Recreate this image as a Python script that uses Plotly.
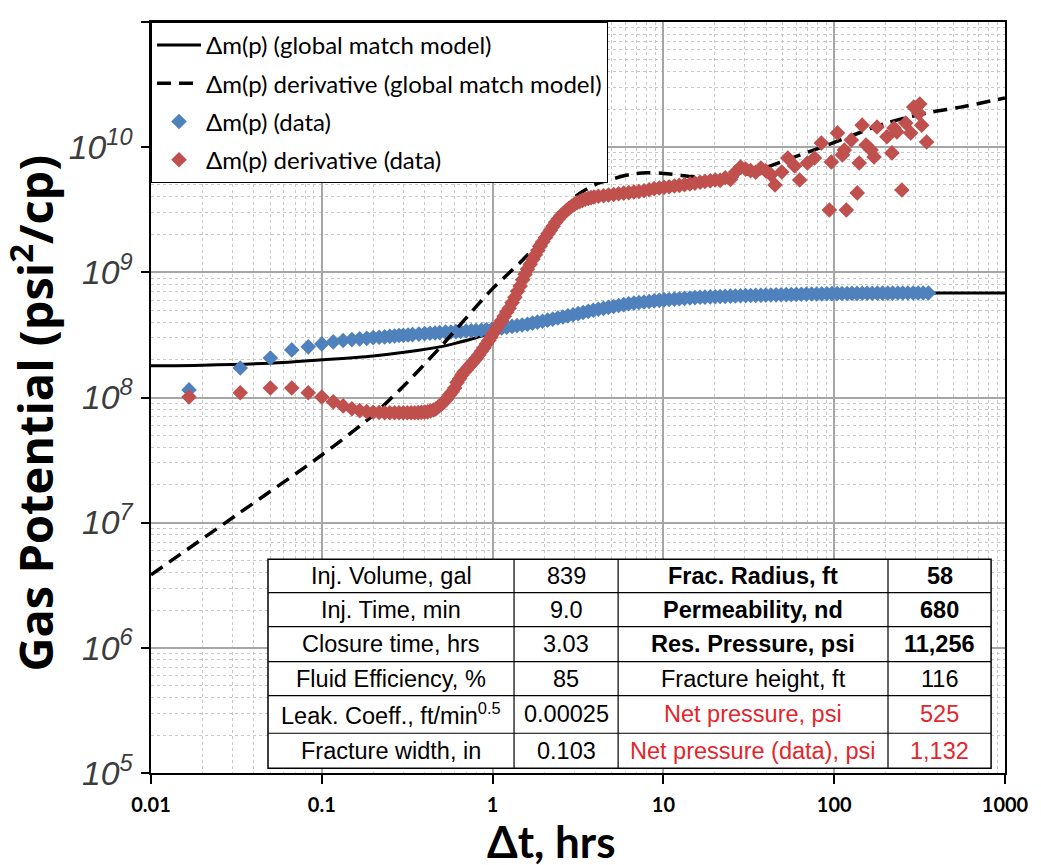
import plotly.graph_objects as go

# ---- model curves (global match) ----
t_model = [0.01, 0.02, 0.05, 0.1, 0.2, 0.32, 0.5, 0.63, 0.8, 1.0, 1.3, 1.6, 2.0, 2.5,
           3.2, 4.0, 6.3, 10, 20, 40, 100, 200, 400, 1000]
mp_model = [1.79e8, 1.81e8, 1.88e8, 2.0e8, 2.15e8, 2.32e8, 2.55e8, 2.75e8, 3.0e8, 3.3e8,
            3.55e8, 3.78e8, 4.03e8, 4.33e8, 4.68e8, 4.98e8, 5.58e8, 6.0e8, 6.38e8, 6.58e8,
            6.76e8, 6.82e8, 6.84e8, 6.84e8]

t_dmodel = [0.01, 0.0316, 0.1, 0.2, 0.316, 0.5, 0.794, 1.0, 1.26, 1.58, 2.0, 2.51, 3.16,
            3.98, 5.01, 6.31, 7.94, 10.0, 15.8, 22.4, 31.6, 58.9, 91.2, 200, 347, 550, 1000]
dmp_model = [3.83e6, 1.15e7, 3.47e7, 7.24e7, 1.32e8, 2.57e8, 5.25e8, 7.41e8, 1.0e9,
             1.35e9, 2.0e9, 3.02e9, 4.17e9, 5.01e9, 5.56e9, 6.03e9, 6.24e9, 6.17e9,
             5.75e9, 5.56e9, 6.17e9, 8.36e9, 1.04e10, 1.55e10, 1.87e10, 2.09e10, 2.47e10]

# ---- measured delta m(p) ----
t_mp = [0.0167, 0.0333, 0.05, 0.0667, 0.0833, 0.1, 0.1167, 0.1333, 0.15, 0.1667, 0.1833,
        0.2, 0.2167, 0.2333, 0.25, 0.2667, 0.2833, 0.3, 0.32, 0.34, 0.37, 0.4, 0.43, 0.46,
        0.49, 0.53, 0.57, 0.61, 0.65, 0.7, 0.75, 0.8, 0.86, 0.92, 0.99, 1.06, 1.13, 1.21,
        1.3, 1.39, 1.49, 1.6, 1.71, 1.83, 1.96, 2.1, 2.25, 2.41, 2.58, 2.76, 2.96, 3.17,
        3.39, 3.63, 3.89, 4.16, 4.46, 4.77, 5.11, 5.47, 5.86, 6.27, 6.72, 7.19, 7.7, 8.25,
        8.83, 9.46, 10.1, 10.8, 11.6, 12.4, 13.3, 14.3, 15.3, 16.4, 17.5, 18.8, 20.1, 21.5,
        23.0, 24.7, 26.4, 28.3, 30.3, 32.4, 34.7, 37.2, 39.8, 42.6, 45.7, 48.9, 52.4, 56.1,
        60.0, 64.3, 68.8, 73.7, 78.9, 84.5, 90.5, 96.9, 104, 111, 119, 127, 136, 146, 156,
        167, 179, 192, 206, 220, 236, 252, 270, 290, 310, 332, 356]
mp_data = [1.15e8, 1.72e8, 2.07e8, 2.40e8, 2.54e8, 2.68e8, 2.78e8, 2.85e8, 2.90e8, 2.94e8,
           2.97e8, 3.01e8, 3.03e8, 3.05e8, 3.08e8, 3.10e8, 3.13e8, 3.14e8, 3.16e8, 3.18e8,
           3.21e8, 3.24e8, 3.26e8, 3.28e8, 3.30e8, 3.33e8, 3.34e8, 3.36e8, 3.37e8, 3.40e8,
           3.41e8, 3.43e8, 3.45e8, 3.48e8, 3.51e8, 3.55e8, 3.59e8, 3.65e8, 3.70e8, 3.75e8,
           3.80e8, 3.85e8, 3.93e8, 4.00e8, 4.07e8, 4.15e8, 4.23e8, 4.32e8, 4.40e8, 4.49e8,
           4.58e8, 4.68e8, 4.78e8, 4.88e8, 4.98e8, 5.07e8, 5.15e8, 5.25e8, 5.33e8, 5.43e8,
           5.52e8, 5.61e8, 5.68e8, 5.74e8, 5.80e8, 5.85e8, 5.92e8, 5.97e8, 6.03e8, 6.07e8,
           6.11e8, 6.15e8, 6.19e8, 6.24e8, 6.28e8, 6.32e8, 6.34e8, 6.37e8, 6.38e8, 6.41e8,
           6.43e8, 6.46e8, 6.47e8, 6.50e8, 6.52e8, 6.53e8, 6.55e8, 6.56e8, 6.58e8, 6.59e8,
           6.61e8, 6.62e8, 6.64e8, 6.65e8, 6.67e8, 6.68e8, 6.70e8, 6.71e8, 6.71e8, 6.73e8,
           6.74e8, 6.76e8, 6.76e8, 6.78e8, 6.78e8, 6.79e8, 6.79e8, 6.81e8, 6.81e8, 6.81e8,
           6.82e8, 6.82e8, 6.82e8, 6.82e8, 6.84e8, 6.84e8, 6.84e8, 6.84e8, 6.84e8, 6.84e8,
           6.84e8]

# ---- measured delta m(p) derivative ----
t_dmp = [0.0167, 0.0333, 0.05, 0.0667, 0.0833, 0.1, 0.1167, 0.1333, 0.15, 0.1667, 0.1833,
         0.2, 0.2167, 0.2333, 0.25, 0.2667, 0.2833, 0.3, 0.3167, 0.3333, 0.35, 0.3667,
         0.3833, 0.4, 0.4167, 0.4333, 0.45, 0.4667, 0.4833, 0.5, 0.52, 0.54, 0.56, 0.58,
         0.6, 0.62, 0.64, 0.66, 0.68, 0.7, 0.72, 0.74, 0.76, 0.78, 0.8, 0.83, 0.86, 0.89,
         0.92, 0.95, 0.98, 1.01, 1.05, 1.09, 1.13, 1.17, 1.21, 1.25, 1.3, 1.35, 1.4, 1.45,
         1.5, 1.55, 1.6, 1.66, 1.72, 1.78, 1.84, 1.9, 1.97, 2.04, 2.11, 2.18, 2.26, 2.34,
         2.42, 2.51, 2.6, 2.7, 2.8, 2.9, 3.01, 3.12, 3.24, 3.36, 3.49, 3.63, 3.77, 3.92,
         4.16, 4.46, 4.77, 5.11, 5.47, 5.86, 6.27, 6.72, 7.19, 7.7, 8.25, 8.83, 9.46, 10.1,
         10.8, 11.6, 12.4, 13.3, 14.3, 15.3, 16.4, 17.5, 18.8, 20.1, 21.5, 23.0, 24.7, 26.4,
         28.3, 30.3, 32.4, 34.7, 37.2, 39.8, 42.6,
         45.0, 49.3, 53.5, 58.7, 62.8, 69.7, 76.7, 84.1, 93.7, 96.2, 104.5, 111.7, 114.6,
         117.8, 125.9, 136.4, 140.1, 145.8, 153.7, 164.4, 171.1, 178.1, 203.6, 217.8, 223.9,
         232.8, 248.9, 262.4, 280.6, 292.3, 312.5, 317.0, 325.2, 347.6]
dmp_data = [1.01e8, 1.09e8, 1.19e8, 1.19e8, 1.09e8, 1.01e8, 9.23e7, 8.57e7, 8.13e7, 7.85e7,
            7.71e7, 7.62e7, 7.59e7, 7.57e7, 7.55e7, 7.55e7, 7.55e7, 7.55e7, 7.55e7, 7.55e7,
            7.55e7, 7.57e7, 7.60e7, 7.64e7, 7.67e7, 7.82e7, 7.94e7, 8.13e7, 8.47e7, 8.81e7,
            9.23e7, 9.77e7, 1.05e8, 1.11e8, 1.19e8, 1.32e8, 1.41e8, 1.51e8, 1.60e8, 1.66e8,
            1.74e8, 1.82e8, 1.89e8, 1.97e8, 2.05e8, 2.19e8, 2.34e8, 2.50e8, 2.68e8, 2.86e8,
            3.04e8, 3.27e8, 3.55e8, 3.83e8, 4.13e8, 4.45e8, 4.82e8, 5.16e8, 5.71e8, 6.31e8,
            7.06e8, 7.76e8, 8.71e8, 9.66e8, 1.06e9, 1.16e9, 1.27e9, 1.38e9, 1.50e9, 1.62e9,
            1.76e9, 1.90e9, 2.03e9, 2.17e9, 2.33e9, 2.51e9, 2.67e9, 2.83e9, 2.96e9, 3.11e9,
            3.25e9, 3.37e9, 3.49e9, 3.60e9, 3.68e9, 3.76e9, 3.84e9, 3.90e9, 3.95e9, 4.00e9,
            4.05e9, 4.09e9, 4.15e9, 4.19e9, 4.24e9, 4.29e9, 4.33e9, 4.38e9, 4.43e9, 4.49e9,
            4.57e9, 4.66e9, 4.72e9, 4.78e9, 4.83e9, 4.89e9, 4.95e9, 5.02e9, 5.09e9, 5.16e9,
            5.25e9, 5.32e9, 5.38e9, 5.47e9, 5.43e9, 5.69e9, 5.52e9, 6.31e9, 6.95e9, 6.68e9,
            6.49e9, 6.31e9, 6.82e9, 6.46e9, 6.03e9,
            4.99e9, 6.34e9, 8.2e9, 7.08e9, 5.47e9, 7.48e9, 8.2e9, 1.08e10, 3.15e9, 7.62e9,
            1.30e10, 8.67e9, 9.5e9, 3.15e9, 1.14e10, 4.31e9, 7.48e9, 1.50e10, 1.04e10, 9.5e9,
            8.36e9, 1.45e10, 1.21e10, 9.0e9, 1.42e10, 1.32e10, 4.55e9, 1.56e10, 1.30e10,
            2.09e10, 1.87e10, 2.21e10, 1.50e10, 1.10e10]

# ---- fracture / reservoir summary table ----
tbl_labels_1 = ["Inj. Volume, gal", "Inj. Time, min", "Closure time, hrs",
                "Fluid Efficiency, %", "Leak. Coeff., ft/min<sup>0.5</sup>",
                "Fracture width, in"]
tbl_values_1 = ["839", "9.0", "3.03", "85", "0.00025", "0.103"]
tbl_labels_2 = ["<b>Frac. Radius, ft</b>", "<b>Permeability, nd</b>",
                "<b>Res. Pressure, psi</b>", "Fracture height, ft", "Net pressure, psi",
                "Net pressure (data), psi"]
tbl_values_2 = ["<b>58</b>", "<b>680</b>", "<b>11,256</b>", "116", "525", "1,132"]
tbl_red_rows = [4, 5]          # rows of the right-hand pair printed in red

# table frame in plot-area fractions
tbl_col_edges = [0.137, 0.4251, 0.547, 0.863, 0.9837]
tbl_row_edges = [0.2846, 0.2401, 0.1948, 0.1482, 0.1029, 0.0529, 0.0063]

BLUE = "#4f81bd"
RED = "#c0504d"
TXT_RED = "#e3262b"

fig = go.Figure()

fig.add_trace(go.Scatter(
    x=t_model, y=mp_model, mode="lines", name="Δm(p) (global match model)",
    line=dict(color="black", width=3, shape="spline", smoothing=0.8),
    legendrank=1, legendgroup="g1"))
fig.add_trace(go.Scatter(
    x=t_mp, y=mp_data, mode="markers", name="Δm(p) (data)",
    marker=dict(symbol="diamond", size=12, color=BLUE),
    legendrank=3, legendgroup="g3"))
fig.add_trace(go.Scatter(
    x=t_dmodel, y=dmp_model, mode="lines", name="Δm(p) derivative (global match model)",
    line=dict(color="black", width=3.5, dash="14px,8px", shape="spline", smoothing=0.8),
    legendrank=2, legendgroup="g2"))
fig.add_trace(go.Scatter(
    x=t_dmp, y=dmp_data, mode="markers", name="Δm(p) derivative (data)",
    marker=dict(symbol="diamond", size=12, color=RED),
    legendrank=4, legendgroup="g4"))

# table: white box, grid lines, then cell texts
shapes = [dict(type="rect", xref="paper", yref="paper", layer="above",
               x0=tbl_col_edges[0], x1=tbl_col_edges[-1],
               y0=tbl_row_edges[-1], y1=tbl_row_edges[0],
               fillcolor="white", line=dict(color="black", width=1.5))]
for xe in tbl_col_edges[1:-1]:
    shapes.append(dict(type="line", xref="paper", yref="paper", layer="above",
                       x0=xe, x1=xe, y0=tbl_row_edges[-1], y1=tbl_row_edges[0],
                       line=dict(color="black", width=1.2)))
for ye in tbl_row_edges[1:-1]:
    shapes.append(dict(type="line", xref="paper", yref="paper", layer="above",
                       x0=tbl_col_edges[0], x1=tbl_col_edges[-1], y0=ye, y1=ye,
                       line=dict(color="black", width=1.2)))

annotations = []
columns = [tbl_labels_1, tbl_values_1, tbl_labels_2, tbl_values_2]
for ci, col in enumerate(columns):
    xc = (tbl_col_edges[ci] + tbl_col_edges[ci + 1]) / 2
    for ri, txt in enumerate(col):
        yc = (tbl_row_edges[ri] + tbl_row_edges[ri + 1]) / 2
        color = TXT_RED if (ci >= 2 and ri in tbl_red_rows) else "black"
        annotations.append(dict(
            text=txt, xref="paper", yref="paper", x=xc, y=yc,
            xanchor="center", yanchor="middle", showarrow=False,
            font=dict(family="Liberation Sans", size=23.5, color=color)))

# axis titles
annotations.append(dict(
    text="Δt, hrs", xref="paper", yref="paper", x=0.469, y=-0.091,
    xanchor="center", yanchor="middle", showarrow=False,
    font=dict(family="Lato", size=44, color="black", weight="bold")))
annotations.append(dict(
    text="Gas Potential (psi<sup>2</sup>/cp)", xref="paper", yref="paper",
    x=-0.139, y=0.479, xanchor="center", yanchor="middle", textangle=-90,
    showarrow=False,
    font=dict(family="Open Sans", size=47, color="black", weight="bold")))

major_grid = "#a6a6a6"
minor_grid = "#c8c8c8"

fig.update_xaxes(
    type="log", range=[-2, 3], dtick=1, exponentformat="none",
    showline=True, linecolor="black", linewidth=2, mirror=True,
    ticks="outside", ticklen=9, tickcolor="black", tickwidth=1.5,
    ticklabelstandoff=4,
    tickfont=dict(family="Lato", size=20, color="black", weight="bold"),
    showgrid=True, gridcolor=major_grid, gridwidth=1.5,
    minor=dict(dtick="D1", showgrid=True, gridcolor=minor_grid, griddash="dot",
               gridwidth=1, ticks=""),
    zeroline=False)

fig.update_yaxes(
    type="log", range=[5, 11], dtick=1, exponentformat="power", showexponent="all",
    showline=True, linecolor="black", linewidth=2, mirror=True,
    ticks="outside", ticklen=8, tickcolor="black", tickwidth=1.5,
    ticklabelstandoff=3,
    tickfont=dict(family="Liberation Sans", size=27, color="#3c3c3c", style="italic"),
    showgrid=True, gridcolor=major_grid, gridwidth=1.5,
    minor=dict(dtick="D1", showgrid=True, gridcolor=minor_grid, griddash="dot",
               gridwidth=1, ticks=""),
    zeroline=False)

fig.update_layout(
    width=1041, height=865,
    margin=dict(l=151, r=29, t=22, b=92),
    paper_bgcolor="white", plot_bgcolor="white",
    showlegend=True,
    shapes=shapes, annotations=annotations,
    legend=dict(x=0, y=1, xanchor="left", yanchor="top", bgcolor="white",
                bordercolor="black", borderwidth=1, tracegroupgap=4, itemwidth=44,
                font=dict(family="Lato", size=24, color="black")),
)

fig.write_html("out.html")
